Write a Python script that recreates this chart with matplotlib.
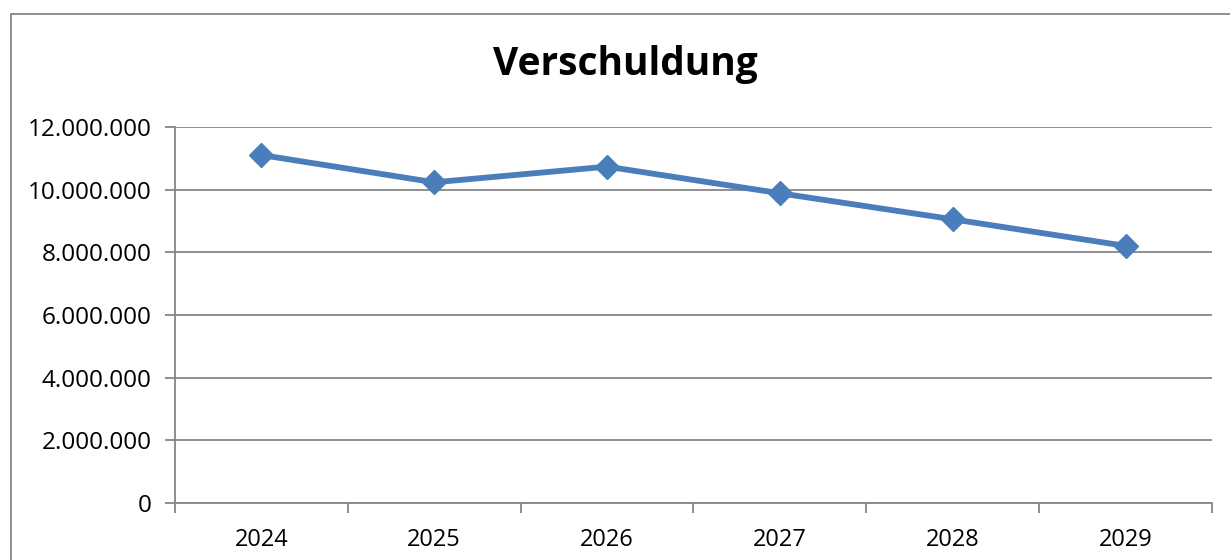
import matplotlib.pyplot as plt
from matplotlib.patches import Rectangle
from matplotlib.ticker import FuncFormatter, FixedLocator

plt.rcParams["font.family"] = ["Open Sans", "DejaVu Sans"]

years = ["2024", "2025", "2026", "2027", "2028", "2029"]
debt = [11_105_000, 10_235_000, 10_735_000, 9_885_000, 9_055_000, 8_205_000]

LINE_COLOR = "#4A7EBB"
GRID_COLOR = "#868686"

fig = plt.figure(figsize=(12.3, 5.6), dpi=100)
ax = fig.add_axes([175 / 1230, 57 / 560, 1037 / 1230, 376 / 560])

# chart area border (Excel style)
fig.patches.append(Rectangle((11 / 1230, -0.1), 1.2, (560 - 14) / 560 + 0.1,
                             transform=fig.transFigure, fill=False,
                             edgecolor=GRID_COLOR, linewidth=1.3))

x = list(range(len(years)))
ax.plot(x, debt, color=LINE_COLOR, linewidth=4.2, marker="D", markersize=12,
        markeredgecolor=LINE_COLOR, markerfacecolor=LINE_COLOR, zorder=3,
        clip_on=False)

ax.set_xlim(-0.5, len(years) - 0.5)
ax.set_ylim(0, 12_000_000)
ax.set_yticks(range(0, 12_000_001, 2_000_000))
ax.yaxis.set_major_formatter(FuncFormatter(lambda v, _: f"{int(v):,}".replace(",", ".")))

ax.set_xticks(x)
ax.set_xticklabels(years)
ax.tick_params(axis="x", which="major", length=0, pad=18, labelsize=17)
ax.xaxis.set_minor_locator(FixedLocator([i - 0.5 for i in range(len(years) + 1)]))
ax.tick_params(axis="x", which="minor", length=7, width=1.3, color=GRID_COLOR)
ax.tick_params(axis="y", length=7, width=1.3, color=GRID_COLOR, pad=10, labelsize=17.5)

ax.grid(axis="y", color=GRID_COLOR, linewidth=1.3)
ax.set_axisbelow(True)
for side in ["top", "right"]:
    ax.spines[side].set_visible(False)
for side in ["left", "bottom"]:
    ax.spines[side].set_color(GRID_COLOR)
    ax.spines[side].set_linewidth(1.3)

fig.text(625 / 1230, 1 - 65 / 560, "Verschuldung", ha="center", va="center",
         fontsize=28, fontweight="bold")

fig.savefig("out.png", dpi=100)
